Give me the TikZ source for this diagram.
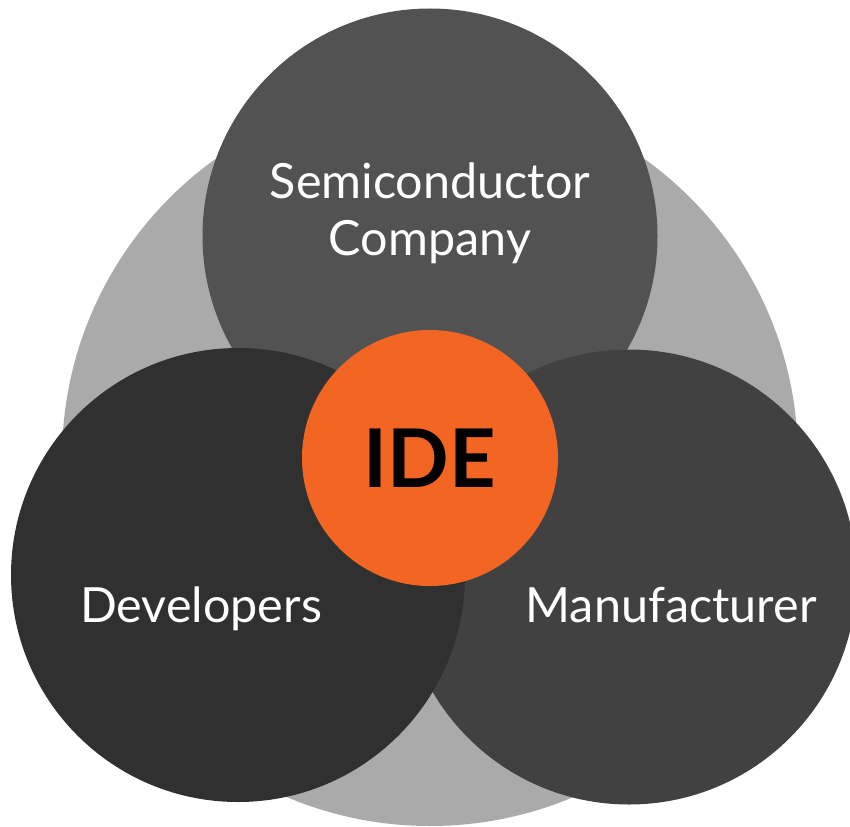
\documentclass[tikz,border=0pt]{standalone}
\usepackage{fontspec}
\setmainfont{Lato}
\definecolor{ringgray}{HTML}{AAAAAA}
\definecolor{semigray}{HTML}{525252}
\definecolor{devgray}{HTML}{303030}
\definecolor{mangray}{HTML}{414141}
\definecolor{ideorange}{HTML}{F36523}
\tikzset{
  disc/.style={circle,inner sep=0pt,draw=none},
  party/.style={text=white,font=\fontsize{48.5}{57}\selectfont,align=center,anchor=base}
}

\begin{document}
\begin{tikzpicture}[x=1pt,y=-1pt]
  \useasboundingbox (0,0) rectangle (850,826);
   \coordinate (Centre) at (430,458);
   \coordinate (Semi) at (430,236);
   \coordinate (Dev) at (238,575);
   \coordinate (Man) at (629,577);
  % outer ring behind everything
  \node[disc,fill=ringgray,minimum size=736pt] (ring) at (Centre) {};
  % the three parties, right one under the left one
  \node[disc,fill=semigray,minimum size=455pt] (semi) at (Semi) {};
  \node[disc,fill=mangray,minimum size=455pt] (man) at (Man) {};
  \node[disc,fill=devgray,minimum size=454pt] (dev) at (Dev) {};
  \node[disc,fill=ideorange,minimum size=256pt] (ide) at (Centre) {};
  \node[party] (semitext) at (430,255) {Semiconductor\\Company};
  \node[party] (devtext) at (201,622) {Developers};
  \node[party] (mantext) at (671,622) {Manufacturer};
  \node[anchor=base,font=\fontsize{81}{90}\bfseries] (idetext) at (430,487) {IDE};
\end{tikzpicture}
\end{document}
